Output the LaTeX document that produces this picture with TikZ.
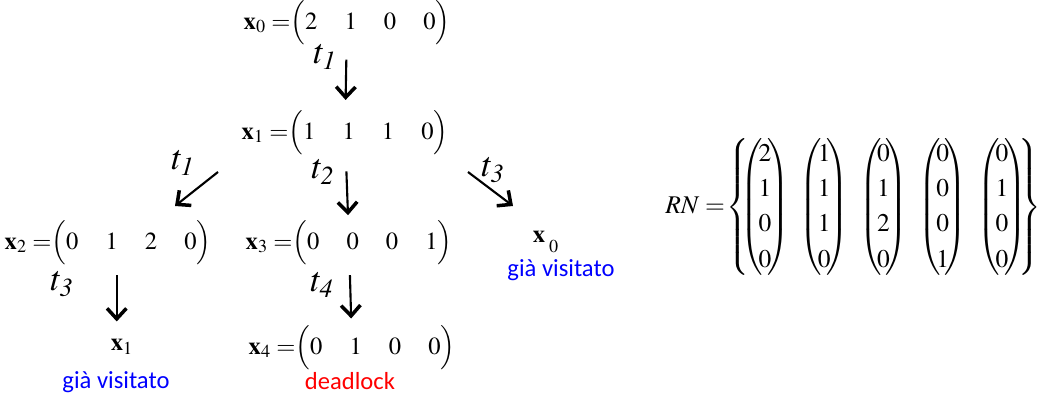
\documentclass[tikz,border=0pt]{standalone}
\usepackage{amsmath}
\usepackage{mathptmx}
\usepackage[no-math]{fontspec}
\setmainfont{Carlito}
\usetikzlibrary{arrows.meta}
\newcommand{\rowvec}[4]{\mkern-4mu\Bigl(#1\hspace{1.1em}#2\hspace{1.1em}#3\hspace{1.1em}#4\Bigr)}
\newcommand{\colvec}[4]{\left(\mkern-3mu\begin{matrix}#1\\#2\\#3\\#4\end{matrix}\mkern-3mu\right)}
\begin{document}
\begin{tikzpicture}[x=0.02cm,y=-0.02cm,
  eq/.style={inner sep=1pt,font=\fontsize{14}{17}\selectfont},
  lbl/.style={inner sep=0pt,font=\fontsize{20}{24}\selectfont},
  note/.style={inner sep=0pt,font=\fontsize{14}{17}\selectfont},
  arr/.style={line width=1.2pt,-{Straight Barb[length=6pt,width=11pt,line width=2pt]}}]
\useasboundingbox (0,0) rectangle (1038,394);
% states
\node[eq] (x0) at (347,23) {$\mathbf{x}_0 = \rowvec{2}{1}{0}{0}$};
\node[eq] (x1) at (345,133) {$\mathbf{x}_1 = \rowvec{1}{1}{1}{0}$};
\node[eq] (x2) at (108,243) {$\mathbf{x}_2 = \rowvec{0}{1}{2}{0}$};
\node[eq] (x3) at (349,243) {$\mathbf{x}_3 = \rowvec{0}{0}{0}{1}$};
\node[eq] (x4) at (352,348) {$\mathbf{x}_4 = \rowvec{0}{1}{0}{0}$};
\node[eq] (x1b) at (122,347) {$\mathbf{x}_1$};
\node[eq] (x0b) at (546,242) {$\mathbf{x}_{\;\lower4pt\hbox{$\scriptstyle 0$}}$};
\node[note,blue] (v1) at (116,382) {già visitato};
\node[note,blue] (v0) at (561,270) {già visitato};
\node[note,red] (dl) at (350,381) {deadlock};
% transitions
\coordinate (d1s) at (218,172);
\coordinate (d1e) at (175,206);
\coordinate (d3s) at (468,172);
\coordinate (d3e) at (513,206);
\draw[arr,shorten <=7pt,shorten >=5pt] (x0) -- (x1);
\draw[arr,shorten <=8pt,shorten >=2pt] (x1) -- (x3);
\draw[arr,shorten <=4.5pt,shorten >=3pt] (x3) -- (x4);
\draw[arr,shorten <=4.5pt,shorten >=9pt] ([xshift=-3pt]x2.south -| x1b) -- ([xshift=-3pt]x1b.north);
\draw[arr] (d1s) -- (d1e);
\draw[arr] (d3s) -- (d3e);
\node[lbl] (t1a) at (325,57) {$t_{\mathit{1}}$};
\node[lbl] (t1b) at (183,163) {$t_{\mathit{1}}$};
\node[lbl] (t2) at (323,172) {$t_{\mathit{2}}$};
\node[lbl] (t3a) at (493,170) {$t_{\mathit{3}}$};
\node[lbl] (t3b) at (62,284) {$t_{\mathit{3}}$};
\node[lbl] (t4) at (322,285) {$t_{\mathit{4}}$};
% reachability set
\node[eq,font=\fontsize{14.5}{17.5}\selectfont] (rn) at (853,207) {\renewcommand{\arraystretch}{1.15}%
  $RN =\mkern-3mu \left\{\mkern-6mu\colvec{2}{1}{0}{0}\hspace{0.3em}\colvec{1}{1}{1}{0}\hspace{0.3em}\colvec{0}{1}{2}{0}\hspace{0.3em}
  \colvec{0}{0}{0}{1}\hspace{0.3em}\colvec{0}{1}{0}{0}\mkern-6mu\right\}$};
\end{tikzpicture}
\end{document}
